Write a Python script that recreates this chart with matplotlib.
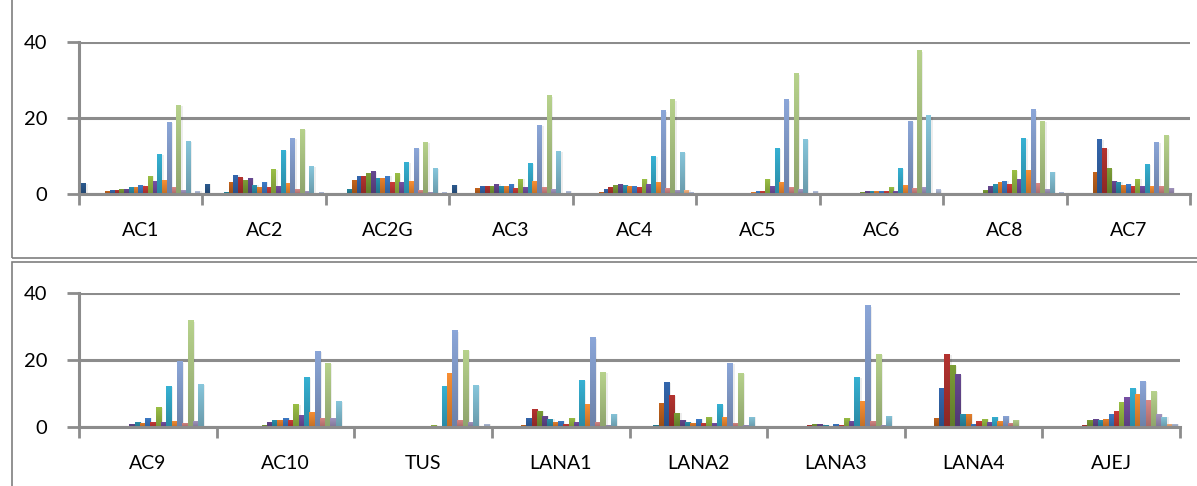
import numpy as np
import matplotlib.pyplot as plt
from matplotlib.colors import to_rgb
from matplotlib.patches import Rectangle

# categories
top_groups = ['AC1', 'AC2', 'AC2G', 'AC3', 'AC4', 'AC5', 'AC6', 'AC8', 'AC7']
bottom_groups = ['AC9', 'AC10', 'TUS', 'LANA1', 'LANA2', 'LANA3', 'LANA4', 'AJEJ']

# 25 series per category
AC1 = [2.8, 0, 0, 0, 0.2, 0.7, 1.0, 1.0, 1.2, 1.2, 1.8, 1.8, 2.3, 2.0, 4.7, 3.4, 10.5, 3.6, 19.0, 1.8, 23.5, 1.0, 14.0, 0, 0.7]
AC2 = [2.6, 0.1, 0.1, 0, 0.4, 3.1, 5.0, 4.4, 3.6, 4.2, 2.3, 1.8, 3.1, 1.8, 6.5, 2.0, 11.6, 2.8, 14.8, 1.2, 17.2, 0.7, 7.3, 0, 0.4]
AC2G = [0.2, 0, 0, 0.1, 1.2, 3.6, 4.7, 4.7, 5.5, 6.0, 4.2, 4.2, 4.7, 3.1, 5.5, 3.1, 8.4, 3.4, 12.1, 1.0, 13.7, 0.4, 6.8, 0, 0.4]
AC3 = [2.3, 0.1, 0, 0.1, 0.1, 1.5, 2.0, 2.0, 2.0, 2.6, 2.0, 2.0, 2.6, 1.5, 3.9, 1.8, 8.1, 3.4, 18.2, 1.8, 26.0, 1.2, 11.3, 0, 0.7]
AC4 = [0, 0, 0, 0, 0, 0.4, 1.2, 1.8, 2.3, 2.6, 2.3, 2.0, 2.0, 1.8, 3.9, 2.6, 10.0, 3.1, 22.0, 1.5, 24.9, 1.0, 11.1, 1.0, 0.4]
AC5 = [0, 0, 0, 0, 0, 0, 0, 0, 0.2, 0.1, 0.1, 0.4, 0.7, 0.7, 3.9, 2.0, 12.2, 3.1, 24.9, 1.8, 31.9, 1.2, 14.6, 0, 0.7]
AC6 = [0, 0, 0, 0, 0, 0, 0, 0.2, 0.4, 0.7, 0.7, 0.7, 0.7, 0.7, 1.8, 0.7, 6.8, 2.3, 19.3, 1.5, 38.0, 1.8, 20.7, 0.2, 1.2]
AC8 = [0, 0, 0, 0, 0, 0, 0, 0.2, 1.0, 2.0, 2.6, 3.1, 3.4, 2.6, 6.3, 3.9, 14.8, 6.3, 22.3, 2.8, 19.3, 1.2, 5.8, 0, 0.4]
AC7 = [0, 0, 0, 0, 0, 5.8, 14.5, 12.1, 6.8, 3.4, 3.2, 2.4, 2.6, 2.1, 3.9, 2.1, 7.9, 2.1, 13.7, 2.1, 15.5, 1.6, 0, 0, 0]

AC9 = [0, 0, 0, 0, 0, 0, 0.1, 0, 0.3, 1.0, 1.6, 1.3, 2.8, 1.6, 5.9, 1.6, 12.2, 1.9, 19.6, 1.3, 31.9, 1.9, 12.8, 0, 0.4]
AC10 = [0, 0, 0, 0, 0.1, 0, 0, 0.4, 0.7, 1.6, 2.2, 2.2, 2.8, 2.2, 6.8, 3.7, 15.0, 4.6, 22.8, 2.8, 19.2, 2.8, 7.7, 0.4, 0.4]
TUS = [0, 0, 0, 0, 0, 0, 0, 0, 0, 0, 0.4, 0, 0, 0, 0.7, 0, 12.2, 16.2, 28.9, 2.2, 23.1, 1.6, 12.5, 0, 1.0]
LANA1 = [0, 0, 0, 0, 0, 0.7, 2.8, 5.3, 4.9, 3.4, 2.5, 1.6, 1.9, 1.0, 2.8, 1.6, 14.0, 6.8, 26.8, 1.6, 16.5, 0.7, 4.0, 0, 0]
LANA2 = [0, 0, 0, 0, 0.7, 7.1, 13.4, 9.5, 4.3, 2.2, 1.6, 1.3, 2.5, 1.3, 3.1, 1.3, 6.8, 3.1, 19.2, 1.3, 16.2, 0.7, 3.1, 0, 0]
LANA3 = [0, 0, 0, 0, 0, 0, 0.4, 0.7, 1.0, 1.0, 0.7, 0.4, 1.0, 0.7, 2.8, 1.9, 15.0, 7.7, 36.5, 1.9, 21.9, 0.7, 3.4, 0, 0.4]
LANA4 = [0, 0, 0, 0, 0, 2.8, 11.6, 21.9, 18.6, 15.9, 4.0, 4.0, 1.0, 1.9, 2.5, 1.6, 3.1, 1.9, 3.4, 1.3, 2.2, 0.4, 0.4, 0, 0]
AJEJ = [0, 0, 0, 0, 0.1, 0, 0, 0.7, 2.2, 2.5, 2.2, 2.5, 4.0, 4.9, 7.4, 8.9, 11.6, 9.8, 13.7, 8.0, 10.7, 4.0, 3.1, 1.0, 1.0]

top_values = [AC1, AC2, AC2G, AC3, AC4, AC5, AC6, AC8, AC7]
bottom_values = [AC9, AC10, TUS, LANA1, LANA2, LANA3, LANA4, AJEJ]

# Excel-like palette: dark set, mid set, base set, light set, extra
series_colors = [
    '#2c5a8f', '#8e2e2c', '#6f8a33', '#56417c', '#25869d', '#c5641c',
    '#3467ae', '#b43330', '#7c9e37', '#674891', '#2c93b0', '#e8802c',
    '#3d7cc9', '#cc3b38', '#9abf45', '#7650a4', '#36b1d3', '#f98f33',
    '#8ba6d8', '#d98886', '#b7d28c', '#a597c2', '#87c6db', '#fab480',
    '#b3c1de',
]

plt.rcParams['font.family'] = ['Lato', 'DejaVu Sans']
GRID = '#8c8c8c'

fig = plt.figure(figsize=(11.97, 4.86), dpi=100)
W, H = 1197, 486

# chart area frames
for (x0, y0, x1, y1) in [(12, -5, 1205, 258), (12, 262, 1205, 495)]:
    fig.patches.append(Rectangle((x0 / W, 1 - y1 / H), (x1 - x0) / W, (y1 - y0) / H,
                                 transform=fig.transFigure, fill=False,
                                 edgecolor='#7f7f7f', lw=1.2))


def draw_panel(ax, groups, values):
    n = len(series_colors)
    w = 1 / (n + 1)
    for gi, vals in enumerate(values):
        xs = gi + (np.arange(n) - (n - 1) / 2) * w
        bars = ax.bar(xs, vals, width=w, color=series_colors, linewidth=0, zorder=3)
        for b, c in zip(bars, series_colors):
            h = b.get_height()
            if h <= 0:
                continue
            # soft shadow
            ax.add_patch(Rectangle((b.get_x() + w * 0.35, 0), w, h * 0.98,
                                   facecolor='#000000', alpha=0.07, lw=0, zorder=2))
            top = np.array(to_rgb(c))
            bot = top * 0.78
            grad = np.linspace(top, bot, 32)[:, None, :]
            im = ax.imshow(grad, extent=[b.get_x(), b.get_x() + w, 0, h],
                           aspect='auto', zorder=4, interpolation='bilinear')
            im.set_clip_path(b)

    ax.set_xlim(-0.5, len(groups) - 0.5)
    ax.set_ylim(0, 40)
    ax.set_yticks([0, 20, 40])
    ax.set_xticks(range(len(groups)))
    ax.set_xticklabels(groups)
    ax.set_xticks(np.arange(len(groups) + 1) - 0.5, minor=True)
    ax.tick_params(axis='x', which='major', length=0, pad=20, labelsize=14)
    ax.tick_params(axis='x', which='minor', length=8, width=2, color=GRID)
    ax.tick_params(axis='y', length=9, width=2, color=GRID, pad=14, labelsize=14.5)
    ax.yaxis.grid(True, color=GRID, lw=2.2, zorder=1)
    ax.set_axisbelow(True)
    for s in ['top', 'right']:
        ax.spines[s].set_visible(False)
    for s in ['left', 'bottom']:
        ax.spines[s].set_color(GRID)
        ax.spines[s].set_linewidth(2.2)
    ax.spines['bottom'].set_zorder(5)


ax1 = fig.add_axes([79 / W, 1 - 194 / H, (1190 - 79) / W, (194 - 42) / H])
draw_panel(ax1, top_groups, top_values)

ax2 = fig.add_axes([79 / W, 1 - 427 / H, (1180 - 79) / W, (427 - 293) / H])
draw_panel(ax2, bottom_groups, bottom_values)

fig.savefig('out.png', dpi=100)
